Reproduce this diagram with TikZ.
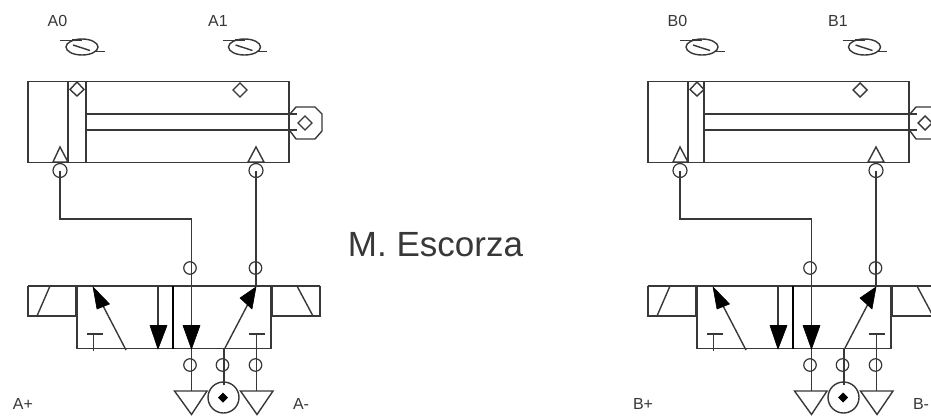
\documentclass[tikz,border=0pt]{standalone}
\usepackage{fontspec}
\setmainfont{Liberation Sans}
\definecolor{ink}{gray}{0.22}
\tikzset{
  ln/.style={draw=ink,line width=1.4pt,line join=miter},
  thick ln/.style={draw=ink,line width=2.4pt},
  port/.style={circle,draw=ink,line width=1.2pt,minimum size=12.5pt,inner sep=0pt},
  lbl/.style={text=ink,font=\fontsize{16}{18}\selectfont,inner sep=0pt},
  solid head/.style={fill=black,draw=black,line width=.6pt,line join=round},
}
\newcommand\valveunit[6]{% prefix, x shift, left label, right label, act+, piston edge
\begin{scope}[shift={(#2,0)},name prefix=#1-]
 % cylinder
 \draw[ln] (28,81.5) rectangle (289,162.5);
 \draw[ln] (68,81.5) -- (68,162.5);
 \draw[ln] (#6,81.5) -- (#6,162.5);
 \draw[ln] (#6,114) -- (297,114) (#6,130) -- (297,130);
 \draw[ln] (290,114) -- (296,107) -- (315,107) -- (322,114) -- (322,131) -- (315,139) -- (296,139) -- (290,131);
 \draw[ln] (305,116) -- (312,123) -- (305,130) -- (298,123) -- cycle;
 \draw[ln] (77,82) -- (84,89.5) -- (77,96) -- (70,89.5) -- cycle;
 \draw[ln] (240,83) -- (247,90) -- (240,97) -- (233,90) -- cycle;
 \draw[ln] (60,147) -- (68,162) -- (53,162) -- cycle;
 \draw[ln] (256,147) -- (264,162) -- (248,162) -- cycle;
 % sensors
 \foreach \sx in {0,162.5}{
  \begin{scope}[xshift=\sx]
   \draw[ln] (82,47) ellipse [x radius=16,y radius=8];
   \draw[ln] (60,40.5) -- (80,40.5);
   \draw[line width=2.4pt,draw=ink] (72,40) -- (82,40);
   \draw[ln] (95,51.5) -- (104.5,51.5);
   \draw[ln] (73,45) -- (90,50.5);
  \end{scope}}
 \node[lbl] (top0) at (57.5,20.5) {#3};
 \node[lbl] (top1) at (218,20.5) {#4};
 % ports
 \node[port,minimum width=14pt,minimum height=12pt] (c0) at (60,170.5) {};
 \node[port,minimum width=14pt,minimum height=12pt] (c1) at (256,170.5) {};
 \node[port] (v0) at (190,268) {};
 \node[port] (v1) at (255.5,268) {};
 \node[port] (b0) at (190,365) {};
 \node[port] (b1) at (222.5,365) {};
 \node[port] (b2) at (255.5,365) {};
 \coordinate (bend0) at (60,219);
 \coordinate (bend1) at (191.5,219);
 \coordinate (vt) at (256,286);
 \coordinate (vb0) at (191.5,391);
 \coordinate (vb1) at (224,385);
 \coordinate (vb2) at (256.5,391);
 \draw[ln] (c0.center) -- (bend0) -- (bend1) -- (191.5,349);
 \draw[ln] (c1.center) -- (vt);
 % valve
 \draw[ln] (28,286) -- (320,286);
 \draw[ln] (28,286) -- (28,316) -- (76,316);
 \draw[ln] (320,286) -- (320,316) -- (272,316);
 \draw[ln] (50,286) -- (37,316);
 \draw[ln] (297,286) -- (313,316);
 \draw[ln] (77,348.5) -- (271,348.5);
 \draw[ln] (77,286) -- (77,348.5);
 \draw[ln] (271,286) -- (271,348.5);
 \draw[thick ln] (76,286) -- (76,316);
 \draw[thick ln] (272,286) -- (272,316);
 \draw[line width=2.8pt,draw=black] (173,286) -- (173,348.5);
 % valve arrows
 \draw[ln] (126,350) -- (100,300);
 \path[solid head] (93,287) -- (109.5,304) -- (97,309) -- cycle;
 \draw[ln] (158,286) -- (158,330);
 \path[solid head] (150,325.5) -- (167,325.5) -- (158,349) -- cycle;
 \path[solid head] (183,325.5) -- (200,325.5) -- (191.5,349) -- cycle;
 \draw[ln] (225,348) -- (248,304);
 \path[solid head] (256,287) -- (240,298) -- (252,309) -- cycle;
 % exhaust T marks
 \draw[ln] (87,334) -- (102.5,334) (93.5,334) -- (93.5,351);
 \draw[ln] (249,334) -- (264.5,334) (256.5,334) -- (256.5,348);
 % bottom lines
 \draw[ln] (191.5,349) -- (vb0);
 \draw[ln] (224,348.5) -- (vb1);
 \draw[ln] (256.5,348) -- (vb2);
 % bottom symbols
 \draw[ln] (174.5,391) -- (207,391) -- (191.5,414.5) -- cycle;
 \draw[ln] (240.5,391) -- (273,391) -- (257,414.5) -- cycle;
 \draw[ln] (223.5,397.5) circle [radius=15.5];
 \fill[black] (223,392.5) -- (228,397.5) -- (223,402.5) -- (218,397.5) -- cycle;
 \node[lbl] (pl) at (23,403.5) {#5};
 \node[lbl] (mi) at (301,403.5) {#1-};
\end{scope}}
\begin{document}
\begin{tikzpicture}[x=1pt,y=-1pt]
\useasboundingbox (0,0) rectangle (931,415);
\fill[white] (0,0) rectangle (931,415);
\valveunit{A}{0}{A0}{A1}{A+}{86}
\valveunit{B}{620}{B0}{B1}{B+}{84}
\node[text=ink,font=\fontsize{35}{38}\selectfont,inner sep=0pt] (sig) at (435.5,245) {M. Escorza};
\end{tikzpicture}
\end{document}
